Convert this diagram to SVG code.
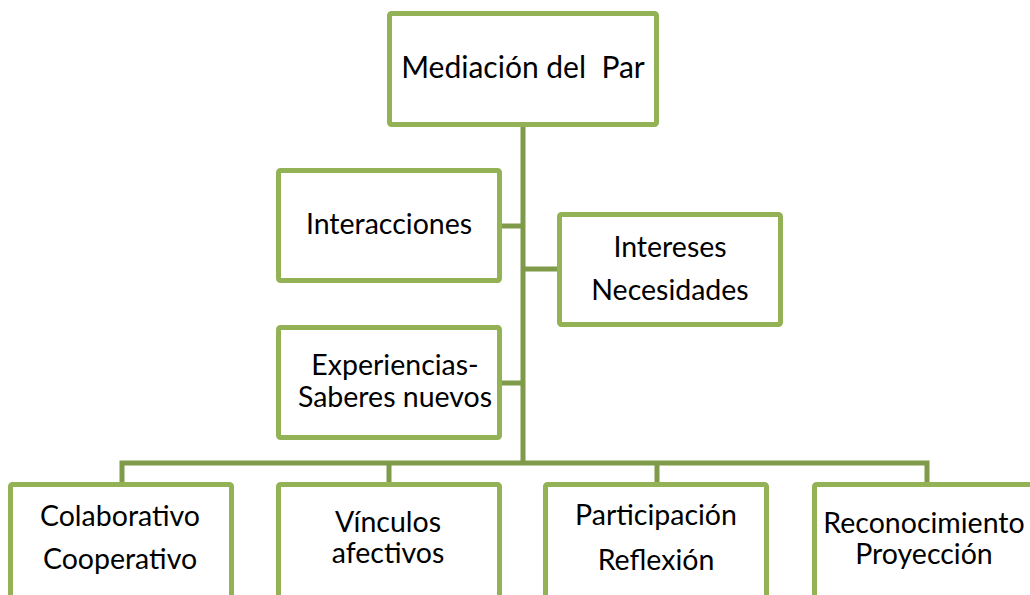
<svg xmlns="http://www.w3.org/2000/svg" width="1030" height="595" viewBox="0 0 1030 595">
<style>
.box{fill:#ffffff;stroke:#92b255;stroke-width:5;}
.conn{fill:none;stroke:#7f9a48;stroke-width:5;stroke-linejoin:miter;}
.t{font-family:Lato,"Open Sans","Liberation Sans",sans-serif;font-size:28.5px;fill:#000;text-anchor:middle;}
.h{font-size:30px;}
</style>
<rect width="1030" height="595" fill="#ffffff"/>
<g id="connectors">
<line class="conn" x1="523" y1="126" x2="523" y2="463"/>
<line class="conn" x1="500" y1="226" x2="523" y2="226"/>
<line class="conn" x1="523" y1="269" x2="560" y2="269"/>
<line class="conn" x1="500" y1="383" x2="523" y2="383"/>
<polyline class="conn" points="122,484 122,463 927,463 927,484"/>
<line class="conn" x1="389" y1="463" x2="389" y2="484"/>
<line class="conn" x1="657" y1="463" x2="657" y2="484"/>
</g>
<g id="node-mediacion">
<rect class="box" x="389.5" y="13.5" width="267" height="111" rx="2"/>
<text class="t h" x="523" y="78" xml:space="preserve">Mediación del  Par</text>
</g>
<g id="node-interacciones">
<rect class="box" x="278.5" y="170.5" width="221" height="110" rx="2"/>
<text class="t" x="389" y="234">Interacciones</text>
</g>
<g id="node-intereses">
<rect class="box" x="559.5" y="214.5" width="221" height="110" rx="2"/>
<text class="t" x="670" y="257">Intereses</text>
<text class="t" x="670" y="300">Necesidades</text>
</g>
<g id="node-experiencias">
<rect class="box" x="278.5" y="327.5" width="221" height="110" rx="2"/>
<text class="t" x="395" y="375">Experiencias-</text>
<text class="t" x="395" y="407">Saberes nuevos</text>
</g>
<g id="node-colaborativo">
<rect class="box" x="10.5" y="484.5" width="221" height="130" rx="2"/>
<text class="t" x="120" y="526">Colaborativo</text>
<text class="t" x="120" y="569">Cooperativo</text>
</g>
<g id="node-vinculos">
<rect class="box" x="278.5" y="484.5" width="221" height="130" rx="2"/>
<text class="t" x="388" y="532">Vínculos</text>
<text class="t" x="388" y="563">afectivos</text>
</g>
<g id="node-participacion">
<rect class="box" x="545.5" y="484.5" width="221" height="130" rx="2"/>
<text class="t" x="656" y="525">Participación</text>
<text class="t" x="656" y="570">Reflexión</text>
</g>
<g id="node-reconocimiento">
<rect class="box" x="814.5" y="484.5" width="240" height="130" rx="2"/>
<text class="t" x="924" y="533">Reconocimiento</text>
<text class="t" x="924" y="564">Proyección</text>
</g>
</svg>
